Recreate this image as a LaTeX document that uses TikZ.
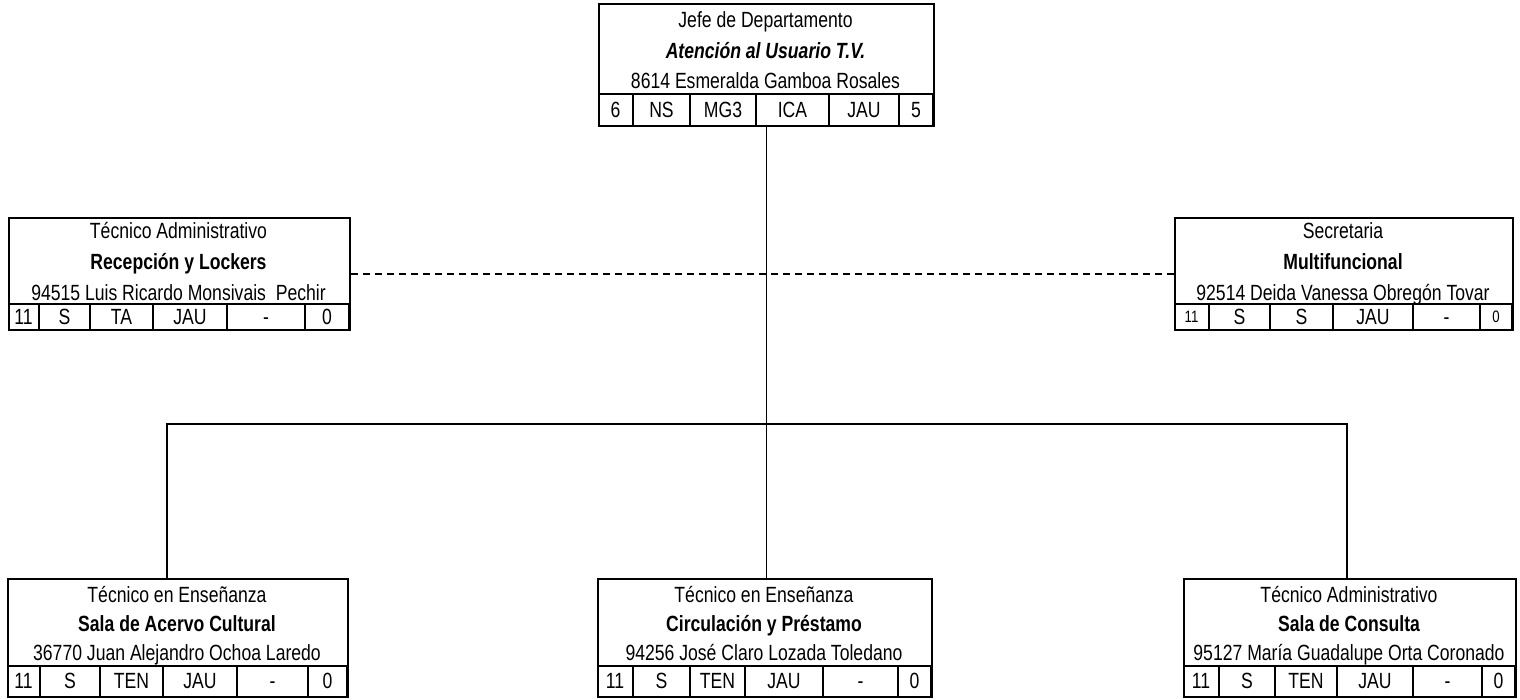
\documentclass[tikz,border=0pt]{standalone}
\usepackage{fontspec}
\setmainfont{Liberation Sans}[FakeStretch=0.8]
\tikzset{
  boxst/.style={draw, line width=2pt, inner sep=0pt, anchor=north west},
  divline/.style={line width=2pt},
  conn/.style={line width=1.8pt},
  dashconn/.style={line width=1.4pt, dash pattern=on 7pt off 5pt},
  txt/.style={inner sep=0pt, text height=15.7pt, text depth=0pt, font=\fontsize{22}{22}\selectfont},
  smalltxt/.style={inner sep=0pt, text height=12pt, text depth=0pt, font=\fontsize{16.5}{16.5}\selectfont},
}
% #1 name, #2 left, #3 top, #4 right, #5 bottom, #6 separator y
\newcommand\orgbox[6]{%
  \node[boxst, minimum width={#4-#2}, minimum height={#5-#3}] (#1) at (#2,#3) {};
  \draw[divline] (#2,#6) -- (#4,#6);
}
% #1 name, #2 separator y, #3 bottom y, #4 list xa/xb/label/style
\newcommand\cellrow[4]{%
  \foreach \xa/\xb/\lab/\st [count=\i] in {#4} {
    \draw[divline] (\xb,#2) -- (\xb,#3);
    \node[\st] (#1c\i) at ({(\xa+\xb)/2},{(#2+#3)/2}) {\lab};
  }
}
\begin{document}
\begin{tikzpicture}[x=1pt,y=-1pt]
\useasboundingbox (0,0) rectangle (1520,699);

% top box
\orgbox{top}{598}{3}{933}{125}{94}
\node[txt] (topa) at (765.5,20) {Jefe de Departamento};
\node[txt] (topb) at (765.5,51) {\bfseries\itshape Atención al Usuario T.V.};
\node[txt] (topc) at (765.5,81) {8614 Esmeralda Gamboa Rosales};
\cellrow{top}{94}{125}{598/633/6/txt, 633/690/NS/txt, 690/756/MG3/txt, 756/829/ICA/txt, 829/899/JAU/txt, 899/933/5/txt}

% middle left
\orgbox{ml}{8}{217}{349}{329}{304}
\node[txt] (mla) at (178.5,231) {Técnico Administrativo};
\node[txt] (mlb) at (178.5,262) {\bfseries Recepción y Lockers};
\node[txt] (mlc) at (178.5,293) {94515 Luis Ricardo Monsivais\ \ Pechir};
\cellrow{ml}{304}{329}{8/39/11/txt, 39/90/S/txt, 90/153/TA/txt, 153/227/JAU/txt, 227/305/-/txt, 305/349/0/txt}

% middle right
\orgbox{mr}{1174}{217}{1512}{329}{304}
\node[txt] (mra) at (1343,231) {Secretaria};
\node[txt] (mrb) at (1343,262) {\bfseries Multifuncional};
\node[txt] (mrc) at (1343,293) {92514 Deida Vanessa Obregón Tovar};
\cellrow{mr}{304}{329}{1174/1209/11/smalltxt, 1209/1270/S/txt, 1270/1333/S/txt, 1333/1413/JAU/txt, 1413/1480/-/txt, 1480/1512/0/smalltxt}

% bottom left
\orgbox{bl}{7}{578}{347}{696}{666}
\node[txt] (bla) at (177,595) {Técnico en Enseñanza};
\node[txt] (blb) at (177,624) {\bfseries Sala de Acervo Cultural};
\node[txt] (blc) at (177,653) {36770 Juan Alejandro Ochoa Laredo};
\cellrow{bl}{666}{696}{7/40/11/txt, 40/100/S/txt, 100/163/TEN/txt, 163/237/JAU/txt, 237/308/-/txt, 308/347/0/txt}

% bottom middle
\orgbox{bm}{597}{578}{931}{696}{666}
\node[txt] (bma) at (764,595) {Técnico en Enseñanza};
\node[txt] (bmb) at (764,624) {\bfseries Circulación y Préstamo};
\node[txt] (bmc) at (764,653) {94256 José Claro Lozada Toledano};
\cellrow{bm}{666}{696}{597/633/11/txt, 633/690/S/txt, 690/745/TEN/txt, 745/823/JAU/txt, 823/898/-/txt, 898/931/0/txt}

% bottom right
\orgbox{br}{1183}{578}{1515}{696}{666}
\node[txt] (bra) at (1349,595) {Técnico Administrativo};
\node[txt] (brb) at (1349,624) {\bfseries Sala de Consulta};
\node[txt] (brc) at (1349,653) {95127 María Guadalupe Orta Coronado};
\cellrow{br}{666}{696}{1183/1219/11/txt, 1219/1275/S/txt, 1275/1337/TEN/txt, 1337/1413/JAU/txt, 1413/1482/-/txt, 1482/1515/0/txt}

% connectors
\coordinate (jl) at (167,424);
\coordinate (jr) at (1347,424);
\draw[conn] (top.south) -- (top.south |- bm.north);
\draw[conn] (jl |- bl.north) -- (jl) -- (jr) -- (jr |- br.north);
\draw[dashconn] (ml.east) -- (mr.west);
\end{tikzpicture}
\end{document}
